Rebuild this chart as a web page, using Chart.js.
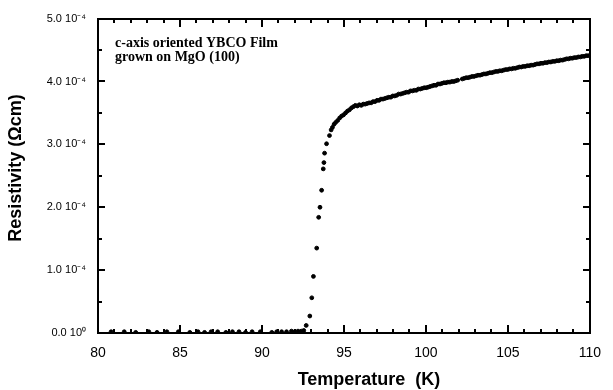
<!DOCTYPE html>
<html>
<head>
<meta charset="utf-8">
<script src="https://cdn.jsdelivr.net/npm/chart.js@4/dist/chart.umd.min.js"></script>
</head>
<body style="margin:0">
<canvas id="rho" width="613" height="390"></canvas>
<script>
// Resistivity of a c-axis oriented YBCO film on MgO(100), in units of 10^-4 ohm·cm

// Superconducting state: readings sitting on zero
const tempSuper = [80.8, 81.6, 82.3, 83.1, 83.6, 84.2, 84.9, 85.6, 86.1, 86.5, 86.9, 87.3, 87.8,
  88.2, 88.6, 89.0, 89.4, 89.9, 90.6, 90.9, 91.2, 91.5, 91.8, 92.0, 92.2, 92.4, 92.55];
const rhoSuper = [0.02, 0.02, 0.01, 0.02, 0.01, 0.02, 0.02, 0.01, 0.02, 0.01, 0.02, 0.02, 0.01,
  0.02, 0.02, 0.01, 0.02, 0.02, 0.01, 0.02, 0.02, 0.02, 0.03, 0.02, 0.03, 0.03, 0.04];

// Transition region
const tempTransition = [92.70, 92.92, 93.04, 93.14, 93.34, 93.46, 93.54, 93.64, 93.74, 93.78, 93.82, 93.94, 94.12, 94.22];
const rhoTransition  = [0.12,  0.27,  0.56,  0.90,  1.35,  1.84,  2.00,  2.27,  2.61,  2.71,  2.86,  3.01,  3.14,  3.23];

// Normal state
const tempNormal = [94.30, 94.40, 94.50, 94.62, 94.74, 94.86, 94.98, 95.10, 95.22, 95.34, 95.46, 95.58,
  95.70, 95.82, 95.94, 96.06, 96.18, 96.30, 96.42, 96.54, 96.66, 96.78, 96.90, 97.02, 97.14, 97.26,
  97.38, 97.50, 97.62, 97.74, 97.86, 97.98, 98.10, 98.22, 98.34, 98.46, 98.58, 98.70, 98.82, 98.94,
  99.06, 99.18, 99.30, 99.42, 99.54, 99.66, 99.78, 99.90, 100.02, 100.14, 100.26, 100.38, 100.50,
  100.62, 100.74, 100.86, 100.98, 101.10, 101.22, 101.34, 101.46, 101.58, 101.70, 101.82, 101.94,
  102.22, 102.34, 102.46, 102.58, 102.70, 102.82, 102.94, 103.06, 103.18, 103.30, 103.42, 103.54,
  103.66, 103.78, 103.90, 104.02, 104.14, 104.26, 104.38, 104.50, 104.62, 104.74, 104.86, 104.98,
  105.10, 105.22, 105.34, 105.46, 105.58, 105.70, 105.82, 105.94, 106.06, 106.18, 106.30, 106.42,
  106.54, 106.66, 106.78, 106.90, 107.02, 107.14, 107.26, 107.38, 107.50, 107.62, 107.74, 107.86,
  107.98, 108.10, 108.22, 108.34, 108.46, 108.58, 108.70, 108.82, 108.94, 109.06, 109.18, 109.30,
  109.42, 109.54, 109.66, 109.78, 109.90];
const rhoNormal = [3.27, 3.32, 3.35, 3.38, 3.42, 3.45, 3.47, 3.50, 3.53, 3.55, 3.58, 3.60,
  3.62, 3.61, 3.63, 3.62, 3.64, 3.64, 3.65, 3.66, 3.66, 3.68, 3.68, 3.70, 3.70, 3.72,
  3.72, 3.73, 3.74, 3.75, 3.75, 3.77, 3.77, 3.78, 3.80, 3.80, 3.81, 3.82, 3.83, 3.83,
  3.85, 3.85, 3.86, 3.86, 3.88, 3.88, 3.89, 3.90, 3.90, 3.91, 3.92, 3.93, 3.94,
  3.94, 3.96, 3.96, 3.97, 3.98, 3.98, 3.99, 3.99, 4.00, 4.00, 4.01, 4.02,
  4.04, 4.05, 4.06, 4.06, 4.07, 4.08, 4.08, 4.09, 4.10, 4.10, 4.11, 4.12,
  4.12, 4.13, 4.14, 4.14, 4.15, 4.16, 4.16, 4.17, 4.17, 4.18, 4.19, 4.19,
  4.20, 4.20, 4.21, 4.21, 4.22, 4.23, 4.23, 4.24, 4.24, 4.25, 4.25, 4.26,
  4.26, 4.27, 4.28, 4.28, 4.29, 4.29, 4.30, 4.30, 4.31, 4.31, 4.32, 4.32,
  4.33, 4.33, 4.34, 4.34, 4.35, 4.36, 4.36, 4.37, 4.37, 4.38, 4.38, 4.39,
  4.39, 4.40, 4.40, 4.41, 4.41];

// Axis ranges and tick labels
const xRange = [80, 110];
const yRange = [0, 5];
const yTickLabels = { 0: '0.0 10\u2070', 1: '1.0 10\u207B\u2074', 2: '2.0 10\u207B\u2074',
  3: '3.0 10\u207B\u2074', 4: '4.0 10\u207B\u2074', 5: '5.0 10\u207B\u2074' };
const noteLines = ['c-axis oriented YBCO Film', 'grown on MgO (100)'];

const pairs = (xs, ys) => xs.map((x, i) => ({ x, y: ys[i] }));
const allPoints = [].concat(
  pairs(tempSuper, rhoSuper),
  pairs(tempTransition, rhoTransition),
  pairs(tempNormal, rhoNormal)
);

// Frame with inward ticks on all four sides, axis titles and the sample note
const decor = {
  id: 'decor',
  afterDraw(chart) {
    const { ctx, chartArea: a, scales: { x, y } } = chart;
    ctx.save();
    ctx.fillStyle = '#000';

    ctx.font = 'bold 18px Arial, sans-serif';
    ctx.textAlign = 'center';
    ctx.textBaseline = 'alphabetic';
    ctx.fillText('Temperature  (K)', 369, 385);
    ctx.save();
    ctx.translate(21, 168);
    ctx.rotate(-Math.PI / 2);
    ctx.fillText('Resistivity (\u03A9cm)', 0, 0);
    ctx.restore();

    ctx.font = 'bold 14px "Liberation Serif", serif';
    ctx.textAlign = 'left';
    ctx.fillText(noteLines[0], 115, 47);
    ctx.fillText(noteLines[1], 115, 60.5);

    const L = Math.round(a.left), R = Math.round(a.right);
    const T = Math.round(a.top), B = Math.round(a.bottom);
    ctx.fillRect(L - 1, T - 1, R - L + 2, 2);
    ctx.fillRect(L - 1, B - 1, R - L + 2, 2);
    ctx.fillRect(L - 1, T - 1, 2, B - T + 2);
    ctx.fillRect(R - 1, T - 1, 2, B - T + 2);
    for (let t = xRange[0] + 1; t < xRange[1]; t += 1) {
      const px = Math.round(x.getPixelForValue(t));
      const len = (t % 5 === 0) ? 8 : 4;
      ctx.fillRect(px - 1, B - len, 2, len);
      ctx.fillRect(px - 1, T, 2, len);
    }
    for (let v = yRange[0] + 0.5; v < yRange[1]; v += 0.5) {
      const py = Math.round(y.getPixelForValue(v));
      const len = (v % 1 === 0) ? 7 : 4;
      ctx.fillRect(L, py - 1, len, 2);
      ctx.fillRect(R - len, py - 1, len, 2);
    }
    ctx.restore();
  }
};

new Chart(document.getElementById('rho'), {
  type: 'scatter',
  data: {
    datasets: [{
      data: allPoints,
      backgroundColor: '#000',
      borderColor: '#000',
      pointRadius: 1.9
    }]
  },
  options: {
    responsive: false,
    animation: false,
    devicePixelRatio: 1,
    layout: { padding: { top: 17, right: 15 } },
    plugins: { legend: { display: false } },
    scales: {
      x: {
        min: xRange[0], max: xRange[1],
        grid: { display: false, drawTicks: false },
        border: { display: false },
        afterFit(s) { s.height = 57; },
        ticks: {
          stepSize: 5,
          padding: 12,
          color: '#000',
          font: { size: 14 }
        }
      },
      y: {
        min: yRange[0], max: yRange[1],
        grid: { display: false, drawTicks: false },
        border: { display: false },
        afterFit(s) { s.width = 98; },
        ticks: {
          stepSize: 1,
          padding: 12,
          color: '#000',
          font: { size: 11 },
          callback: v => yTickLabels[v]
        }
      }
    }
  },
  plugins: [decor]
});
</script>
</body>
</html>
